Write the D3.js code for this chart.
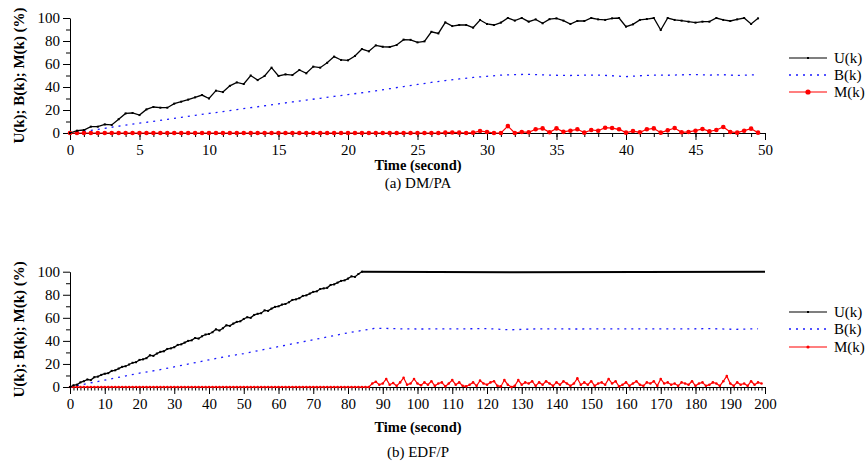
<!DOCTYPE html>
<html>
<head>
<meta charset="utf-8">
<script src="https://cdn.jsdelivr.net/npm/d3@7"></script>
<style>
  body { margin: 0; background: #fff; }
  svg text { font-family: 'Liberation Serif', 'Times New Roman', serif; fill: #000; }
  .axis path, .axis line { stroke: #000; stroke-width: 1; }
</style>
</head>
<body>
<div id="container"></div>
<script>
const w = 865, h = 465;
const serif = "'Liberation Serif', 'Times New Roman', serif";

// (a) DM/PA : samples every 0.5 s from 0 to 49.5
const dmStep = 0.5;
const dmU = [
  0, 2, 2.6, 5.5, 5.5, 7.5, 7, 12, 17, 17.4, 15.6, 20.5, 22.6, 22, 22, 25.5, 27.2, 29, 31, 33,
  30, 36.8, 35.6, 41, 44, 42.6, 50, 46, 49.6, 56.8,
  49.6, 51, 50.4, 54.8, 51.9, 57.7, 56.8, 61, 66.4, 63.5,
  63.2, 67, 73, 71, 76.2, 75, 74.8, 76.5, 81.2, 81,
  78.8, 79.7, 88, 86.6, 96.2, 93, 93.9, 93.9, 91.6, 98.3,
  94.8, 93.9, 96, 100, 97.7, 100, 96.8, 98.8, 95.4, 99,
  99.7, 97.7, 94.8, 97.4, 97.4, 100, 98.8, 98.3, 99.7, 100,
  92.5, 94.5, 98.3, 99.1, 100, 89.6, 100, 98.3, 97.7, 96.8,
  96, 96.8, 96.8, 100, 98.3, 97.4, 98.8, 100, 94.8, 99.7
];
const dmM = [
  0, 0, 0, 0, 0, 0, 0, 0, 0, 0, 0, 0, 0, 0, 0, 0, 0, 0, 0, 0,
  0, 0, 0, 0, 0, 0, 0, 0, 0, 0, 0, 0, 0, 0, 0, 0, 0, 0, 0, 0,
  0, 0, 0, 0, 0, 0, 0, 0, 0, 0, 0, 0, 0, 0,
  0.3, 0.5, 0.3, 0, 0.3, 1.7, 0.9, 0, 0, 6,
  0, 0.9, 0.6, 3.2, 4, 0.6, 4, 1, 2, 3.2,
  0.3, 2.6, 2, 4.6, 4.3, 3.2, 0.3, 1.7, 0.6, 3.2,
  4, 0.3, 2.3, 4.3, 0.6, 0.9, 2, 3.5, 1.4, 2.6,
  5.2, 0.9, 0.3, 2, 3.8, 0.3
];
const dmBTime = [0, 1, 2, 3, 4, 5, 6, 7, 8, 9, 10, 11, 12, 13, 14, 15, 16, 17, 18, 19, 20,
  21, 22, 23, 24, 25, 26, 27, 28, 29, 30, 31, 32, 33, 34, 35, 36, 37, 38, 39, 40,
  41, 42, 43, 44, 45, 46, 47, 48, 49, 49.5];
const dmB = [0, 1.5, 3.2, 5, 6.8, 8.5, 10.2, 11.9, 13.6, 15.3, 17, 18.6, 20.4, 22, 23.7, 25.3,
  27, 28.6, 30.2, 31.8, 33.4, 35, 36.7, 38.5, 40.4, 42.2, 44, 45.6, 47, 48.3, 49.3,
  50.3, 50.8, 51, 50.5, 50.2, 50, 50.3, 50.4, 49.8, 49, 49.8, 50.4, 50.2, 50.6, 50.8,
  50.4, 50.7, 50, 50.5, 50.5];
const dmXTicks = [0, 5, 10, 15, 20, 25, 30, 35, 40, 45, 50];

// (b) EDF/P : samples every 1 s
const edfStep = 1;
const edfU = [
  0, 1.5, 2, 4, 5, 6.5, 6, 8.5, 9, 10.5, 11.5, 12, 14, 14.5, 16, 17.5, 18, 19.5, 21, 21.5,
  23.5, 24, 25, 27.5, 27, 29, 30.5, 31, 33, 33.5, 34.5, 36.5, 37, 38.5, 40, 40.5, 42.5, 42,
  44, 45.5, 46, 47.5, 50, 49, 51, 53.5, 53, 55, 56.5, 57, 59, 60.5, 60, 62.5, 63.5, 64,
  66.5, 66, 68, 69.5, 70, 71.5, 72, 73.5, 75.5, 76, 77, 79, 79.5, 81, 82.5, 83, 85, 85.5,
  86, 88.5, 89, 90.5, 92, 92.5, 94, 96, 95.5, 98, 100
];
const edfUFlatTime = [84, 128, 200];
const edfUFlat = [100, 99.6, 100];
const edfM = [
  0, 0, 0, 0, 0, 0, 0, 0, 0, 0, 0, 0, 0, 0, 0, 0, 0, 0, 0, 0,
  0, 0, 0, 0, 0, 0, 0, 0, 0, 0, 0, 0, 0, 0, 0, 0, 0, 0, 0, 0,
  0, 0, 0, 0, 0, 0, 0, 0, 0, 0, 0, 0, 0, 0, 0, 0, 0, 0, 0, 0,
  0, 0, 0, 0, 0, 0, 0, 0, 0, 0, 0, 0, 0, 0, 0, 0, 0, 0, 0, 0,
  0, 0, 0, 0, 0, 0, 0,
  3, 4.5, 2, 3, 7, 2, 3.5, 1, 4, 8, 2, 3, 7, 3, 1.5, 4, 2, 5, 1, 3,
  4, 0.5, 3, 6, 2, 4, 1, 0.5, 2, 4, 1, 5.5, 3, 2, 4, 5, 1, 0.5, 6, 2,
  0, 1, 6, 2, 4, 3, 5, 1, 4, 2, 5, 3, 1, 4, 2, 5, 3, 1, 3, 7.5,
  2, 4, 2, 5, 1, 3, 4, 2, 7, 3, 5, 0.5, 2, 4, 1, 3, 5, 2, 1, 4,
  3, 5, 1, 7, 3, 4, 2, 3, 1, 4, 3, 2, 5, 1, 3, 4, 1, 2, 4, 3,
  1, 5, 9.5, 3, 1, 4, 2, 3, 1, 5, 2, 4, 3
];
const edfBTime = [0, 5, 10, 15, 20, 25, 30, 35, 40, 45, 50, 55, 60, 65, 70, 75, 80, 85, 88,
  95, 100, 110, 120, 127, 135, 145, 155, 165, 175, 185, 191, 198];
const edfB = [0, 3, 6, 9, 12, 14.5, 17.5, 20.5, 23.5, 26.5, 29, 32, 35, 38, 41, 44, 47, 49.5, 51,
  50.5, 50.3, 50.4, 50.6, 49.6, 50.5, 50.3, 50.4, 50.5, 50.4, 50.6, 50, 50.5];
const edfXTicks = [0, 10, 20, 30, 40, 50, 60, 70, 80, 90, 100, 110, 120, 130, 140, 150, 160, 170, 180, 190, 200];

const yTicks = [0, 20, 40, 60, 80, 100];
const yMinor = [10, 30, 50, 70, 90];
const legendNames = ['U(k)', 'B(k)', 'M(k)'];

const svg = d3.select('#container').append('svg').attr('width', w).attr('height', h);

function drawPanel(p) {
  const x = d3.scaleLinear().domain([0, p.xMax]).range([70, 765]);
  const y = d3.scaleLinear().domain([0, 100]).range([p.y0, p.y100]);
  const g = svg.append('g');

  // minor ticks
  g.append('g').attr('class', 'axis').attr('transform', 'translate(70,0)')
    .call(d3.axisLeft(y).tickValues(yMinor).tickSize(4).tickFormat(''))
    .call((s) => s.select('.domain').remove());
  g.append('g').attr('class', 'axis').attr('transform', 'translate(0,' + p.y0 + ')')
    .call(d3.axisBottom(x).tickValues(d3.range(0, p.xMax + 1, 1)).tickSize(p.minorLen).tickFormat(''))
    .call((s) => s.select('.domain').remove());

  const yAx = g.append('g').attr('class', 'axis').attr('transform', 'translate(70,0)')
    .call(d3.axisLeft(y).tickValues(yTicks).tickSize(7).tickSizeOuter(0).tickPadding(3));
  yAx.attr('font-family', serif);
  yAx.selectAll('text').style('font-family', serif).style('font-size', '15px');

  const xAx = g.append('g').attr('class', 'axis').attr('transform', 'translate(0,' + p.y0 + ')')
    .call(d3.axisBottom(x).tickValues(p.xTicks).tickSize(7).tickSizeOuter(0).tickPadding(4));
  xAx.attr('font-family', serif);
  xAx.selectAll('text').style('font-family', serif).style('font-size', '15px');

  const line = d3.line().x((d) => x(d[0])).y((d) => y(d[1]));

  // B(k)
  g.append('path').datum(p.B).attr('fill', 'none').attr('stroke', '#1a1aff')
    .attr('stroke-width', 1.3).attr('stroke-dasharray', '2,5').attr('d', line);

  // M(k)
  g.append('path').datum(p.M).attr('fill', 'none').attr('stroke', '#ff0000')
    .attr('stroke-width', 1.2).attr('d', line);
  g.selectAll('.mdot').data(p.M).enter().append('circle')
    .attr('cx', (d) => x(d[0])).attr('cy', (d) => y(d[1]))
    .attr('r', p.mR).attr('fill', '#ff0000');

  // U(k)
  g.append('path').datum(p.U).attr('fill', 'none').attr('stroke', '#000')
    .attr('stroke-width', 1.3).attr('d', line);
  if (p.UFlat) {
    g.append('path').datum(p.UFlat).attr('fill', 'none').attr('stroke', '#000')
      .attr('stroke-width', 2).attr('d', line);
  }
  g.selectAll('.udot').data(p.U).enter().append('rect')
    .attr('x', (d) => x(d[0]) - 1).attr('y', (d) => y(d[1]) - 1)
    .attr('width', 2).attr('height', 2).attr('fill', '#000');

  // y label
  g.append('text').text('U(k); B(k); M(k) (%)')
    .attr('transform', 'translate(24,' + (p.y0 + p.y100) / 2 + ') rotate(-90)')
    .attr('text-anchor', 'middle').style('font-weight', 'bold').style('font-size', '15px');

  g.append('text').text('Time (second)').attr('x', 418).attr('y', p.titleY)
    .attr('text-anchor', 'middle').style('font-weight', 'bold').style('font-size', '14.5px');
  g.append('text').text(p.caption).attr('x', 418).attr('y', p.captionY)
    .attr('text-anchor', 'middle').style('font-size', '15px');

  // legend
  const colors = ['#000', '#1a1aff', '#ff0000'];
  legendNames.forEach((name, i) => {
    const ly = p.legendY[i];
    const l = g.append('line').attr('x1', 789).attr('x2', 827).attr('y1', ly).attr('y2', ly)
      .attr('stroke', colors[i]).attr('stroke-width', i === 1 ? 1.3 : 1.2);
    if (i === 1) l.attr('stroke-dasharray', '2,5');
    if (i === 0) g.append('rect').attr('x', 807).attr('y', ly - 1).attr('width', 2).attr('height', 2);
    if (i === 2) g.append('circle').attr('cx', 808).attr('cy', ly).attr('r', p.mR + 0.3).attr('fill', '#ff0000');
    g.append('text').text(name).attr('x', 834).attr('y', ly + 5).style('font-size', '15px');
  });
}

drawPanel({
  xMax: 50, y0: 133, y100: 18, minorLen: 4, xTicks: dmXTicks,
  U: dmU.map((v, i) => [i * dmStep, v]),
  M: dmM.map((v, i) => [i * dmStep, v]),
  B: dmB.map((v, i) => [dmBTime[i], v]),
  mR: 2.3,
  titleY: 170, caption: '(a) DM/PA', captionY: 188,
  legendY: [58, 75, 92]
});

drawPanel({
  xMax: 200, y0: 387, y100: 271.7, minorLen: 3.5, xTicks: edfXTicks,
  U: edfU.map((v, i) => [i * edfStep, v]),
  UFlat: edfUFlat.map((v, i) => [edfUFlatTime[i], v]),
  M: edfM.map((v, i) => [i * edfStep, v]),
  B: edfB.map((v, i) => [edfBTime[i], v]),
  mR: 1.3,
  titleY: 432, caption: '(b) EDF/P', captionY: 457,
  legendY: [312, 329, 347]
});
</script>
</body>
</html>
